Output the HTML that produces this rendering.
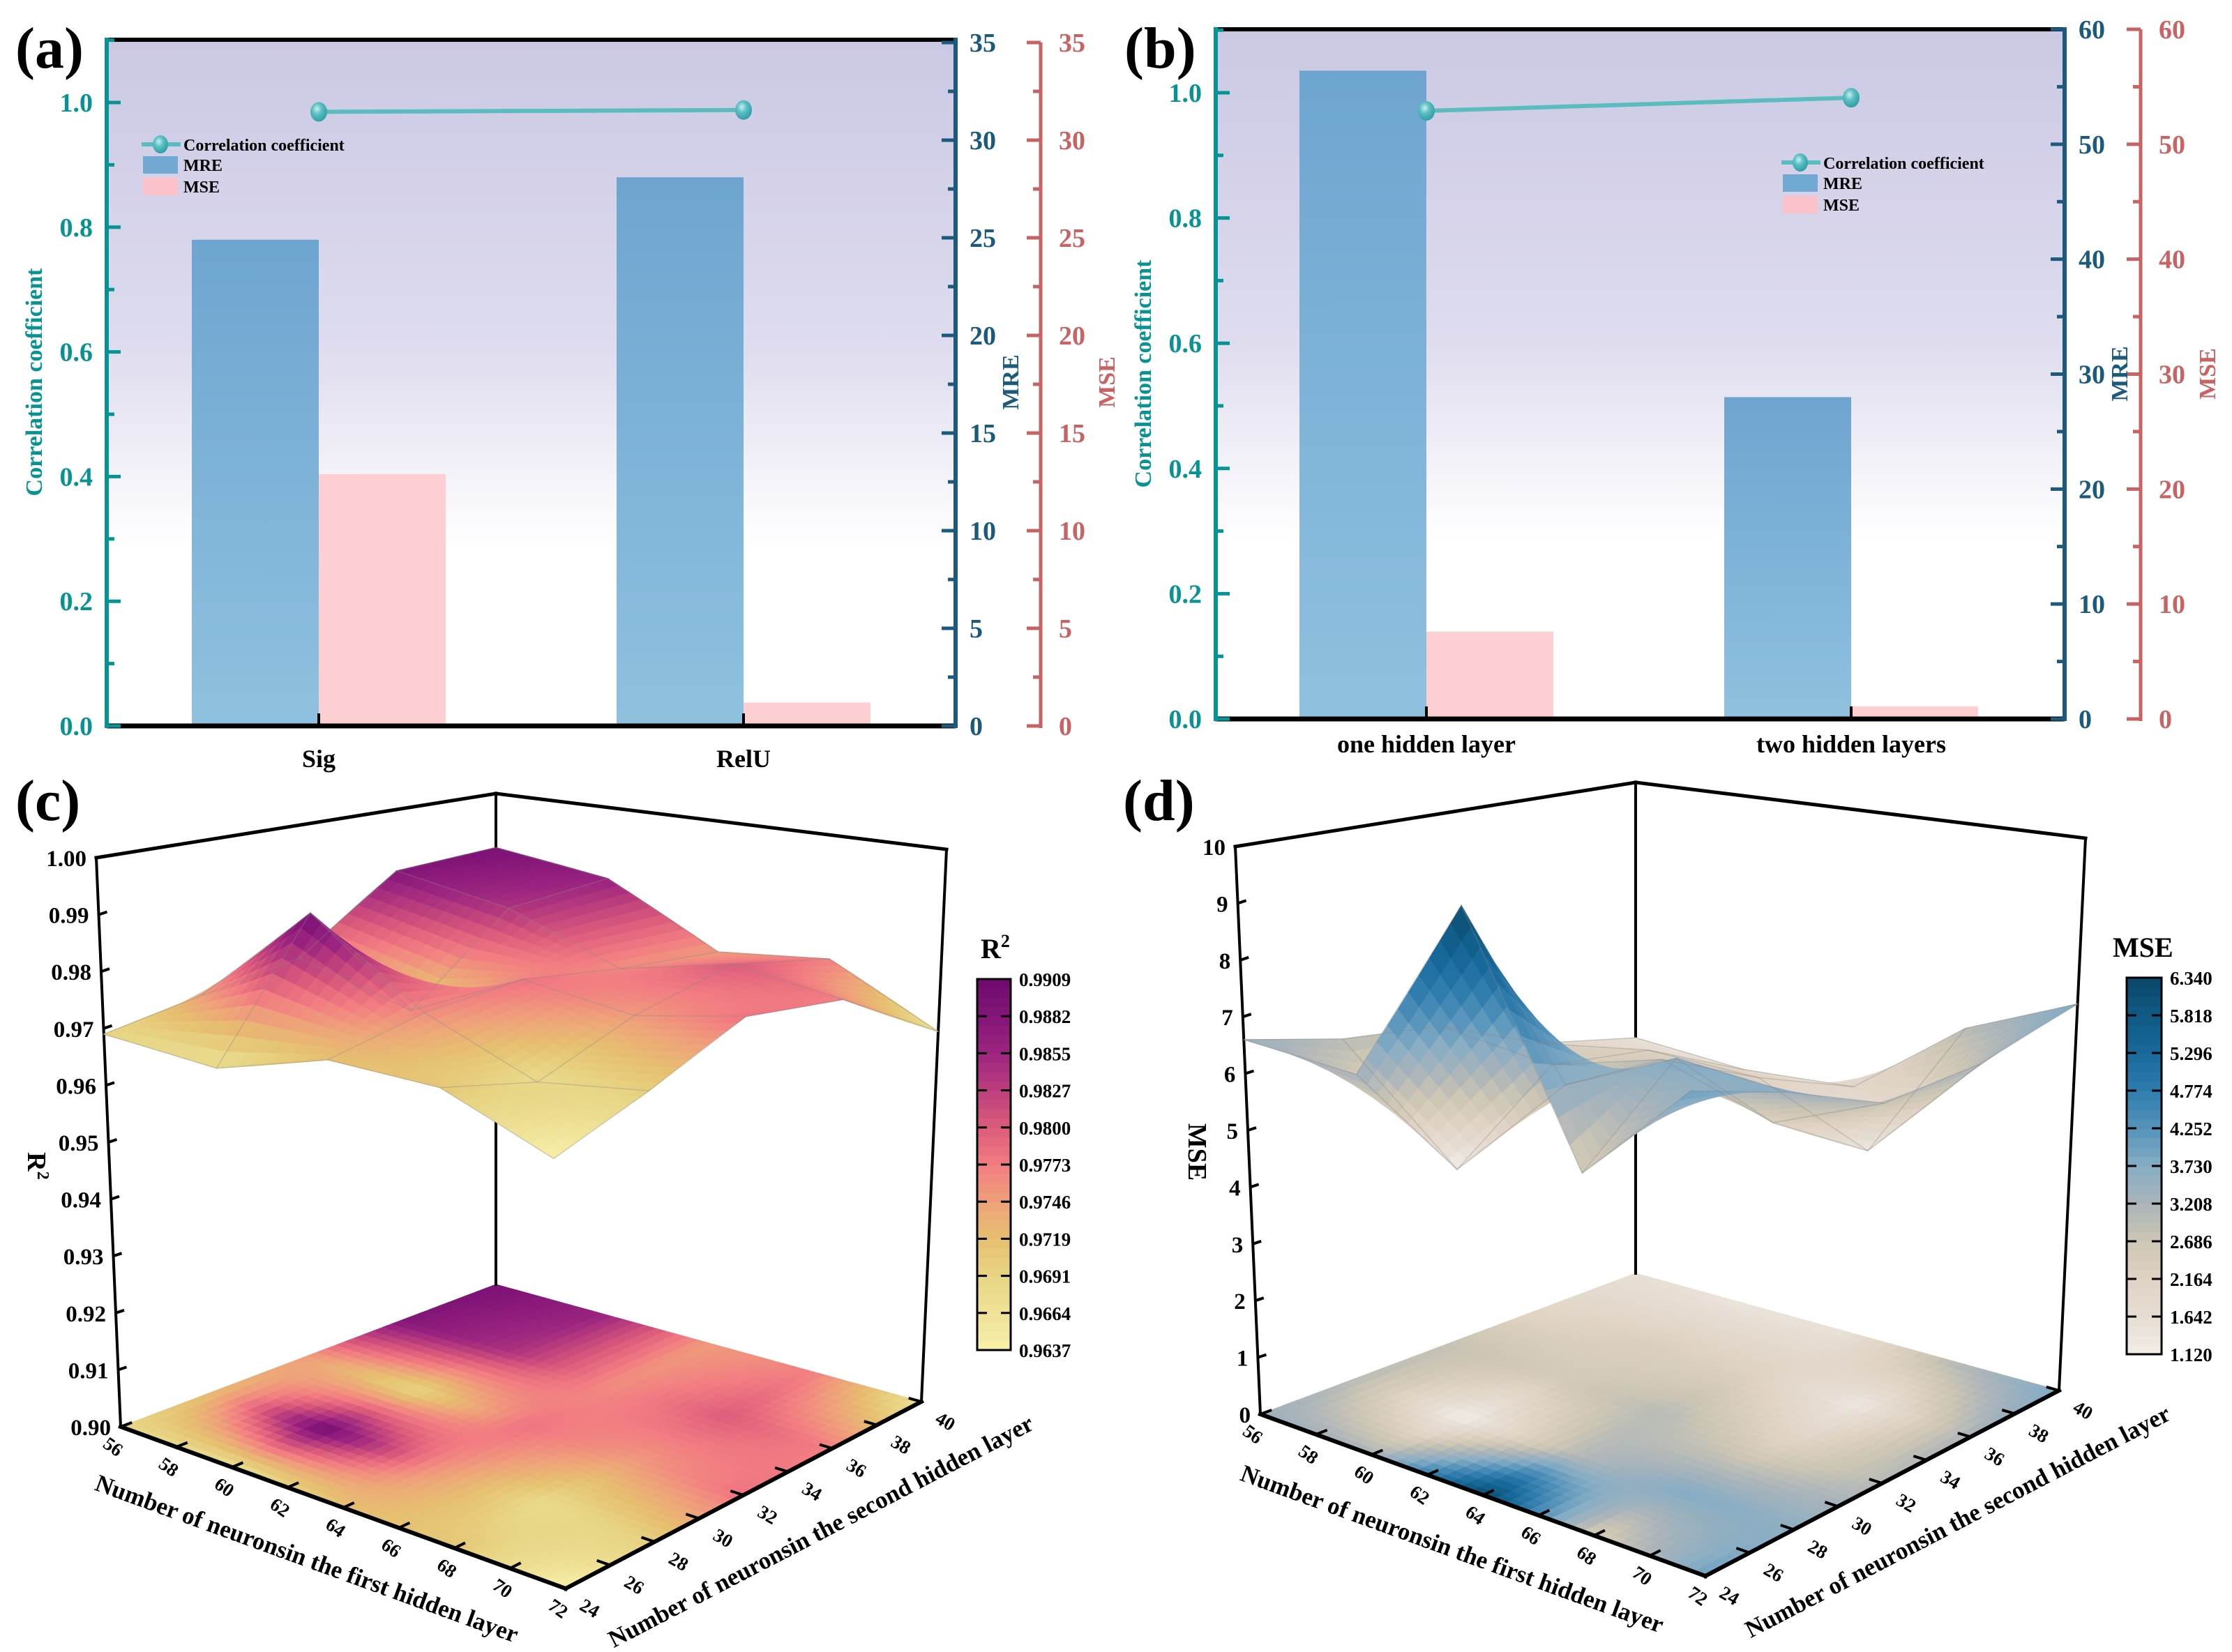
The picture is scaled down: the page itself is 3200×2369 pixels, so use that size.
<!DOCTYPE html>
<html><head><meta charset="utf-8">
<style>
html,body{margin:0;padding:0;background:#fff;}
svg text{font-family:"Liberation Serif","DejaVu Serif",serif;font-weight:bold;}
</style></head>
<body>
<svg id="fig" xmlns="http://www.w3.org/2000/svg" width="3200" height="2364" viewBox="0 0 3200 2364">
<defs>
<linearGradient id="bgA" x1="0" y1="0" x2="0" y2="1">
<stop offset="0" stop-color="#cbc8e4"/><stop offset="0.45" stop-color="#dedcee"/><stop offset="0.74" stop-color="#ffffff"/><stop offset="1" stop-color="#ffffff"/>
</linearGradient>
<linearGradient id="mreG" x1="0" y1="0" x2="0" y2="1">
<stop offset="0" stop-color="#6ea5d0"/><stop offset="1" stop-color="#8fc1df"/>
</linearGradient>
<radialGradient id="ballG" cx="0.4" cy="0.35" r="0.7">
<stop offset="0" stop-color="#c8f0f0"/><stop offset="0.4" stop-color="#5cc0c4"/><stop offset="1" stop-color="#2a9aa0"/>
</radialGradient>
</defs>
<g id="layer"></g>
</svg>
<script>
// ---------- Data: panel (a)
const catsA = ["Sig", "RelU"];
const corrA = [0.985, 0.988];
const mreA = [24.9, 28.1];
const mseA = [12.9, 1.2];
// ---------- Data: panel (b)
const catsB = ["one hidden layer", "two hidden layers"];
const corrB = [0.971, 0.992];
const mreB = [56.4, 28.0];
const mseB = [7.6, 1.1];
const leftTicks = ["0.0","0.2","0.4","0.6","0.8","1.0"];
const rightTicksA = [0,5,10,15,20,25,30,35];
const rightTicksB = [0,10,20,30,40,50,60];
// ---------- Data: panel (c) R2 surface (rows: first layer, cols: second layer)
const firstLayer = [56, 60, 64, 68, 72];
const secondLayer = [24, 28, 32, 36, 40];
const r2Grid = [
 [0.969, 0.972, 0.975, 0.988, 0.989],
 [0.967, 0.990, 0.969, 0.984, 0.986],
 [0.972, 0.976, 0.978, 0.976, 0.975],
 [0.971, 0.968, 0.975, 0.980, 0.977],
 [0.9637, 0.970, 0.978, 0.977, 0.967]
];
const r2Ticks = ["0.90","0.91","0.92","0.93","0.94","0.95","0.96","0.97","0.98","0.99","1.00"];
const r2Bar = ["0.9637","0.9664","0.9691","0.9719","0.9746","0.9773","0.9800","0.9827","0.9855","0.9882","0.9909"];
// ---------- Data: panel (d) MSE surface
const mseGrid = [
 [3.4, 3.0, 2.8, 2.0, 1.6],
 [3.2, 1.12, 2.5, 2.3, 1.4],
 [6.3, 3.0, 3.0, 2.2, 1.5],
 [2.4, 3.8, 2.3, 1.3, 3.0],
 [4.0, 3.6, 3.0, 3.2, 3.8]
];
const mseZOffset = 3.2;
const mseTicks = ["0","1","2","3","4","5","6","7","8","9","10"];
const mseBar = ["1.120","1.642","2.164","2.686","3.208","3.730","4.252","4.774","5.296","5.818","6.340"];
const xTickVals = [56,58,60,62,64,66,68,70,72];
const yTickVals = [24,26,28,30,32,34,36,38,40];

const NS = "http://www.w3.org/2000/svg";
const root = document.getElementById("layer");
function mk(tag, attrs, parent) {
  const e = document.createElementNS(NS, tag);
  for (const k in attrs) e.setAttribute(k, attrs[k]);
  (parent || root).appendChild(e);
  return e;
}
function txt(str, attrs, parent) { const e = mk("text", attrs, parent); e.textContent = str; return e; }

// ================= BAR PANELS =================
function barPanel(p, cats, corr, mre, mse, rTicks, rMax, tag) {
  const g = mk("g", {});
  
  
  const yL = v => p.bot - v * p.perUnit;
  const yR = v => p.bot - v * (p.bot - p.rTop) / rMax;
  const bg = mk("rect", {x:p.x0, y:p.top, width:p.x1-p.x0, height:p.bot-p.top, fill:"url(#bgA)"}, g);
  
  
  cats.forEach((c, i) => {
    const cx = p.cx[i];
    const b1 = mk("rect", {x:cx-p.bw, y:yR(mre[i]), width:p.bw, height:p.bot-yR(mre[i]), fill:"url(#mreG)"}, g);
    
    
    const b2 = mk("rect", {x:cx, y:yR(mse[i]), width:p.bw, height:p.bot-yR(mse[i]), fill:"#fdcfd2"}, g);
    
    
    mk("line", {x1:cx, x2:cx, y1:p.bot, y2:p.bot-18, stroke:"#000", "stroke-width":4}, g);
    const cl = txt(c, {x:cx, y:p.catY, "text-anchor":"middle", "font-size":36, fill:"#000"}, g);
    
    
  });
  mk("line", {x1:p.x0, x2:p.x1, y1:p.top, y2:p.top, stroke:"#000", "stroke-width":6}, g);
  const xa = mk("line", {x1:p.x0, x2:p.x1, y1:p.bot, y2:p.bot, stroke:"#000", "stroke-width":7}, g);
  
  
  const la = mk("line", {x1:p.x0, x2:p.x0, y1:p.top-3, y2:p.bot+3, stroke:"#079393", "stroke-width":6}, g);
  
  
  const ra = mk("line", {x1:p.x1, x2:p.x1, y1:p.top-3, y2:p.bot+3, stroke:"#1b5a7c", "stroke-width":6}, g);
  
  
  const ma = mk("line", {x1:p.msex, x2:p.msex, y1:p.rTop, y2:p.bot+3, stroke:"#c96262", "stroke-width":5}, g);
  
  
  for (let k = 0; k <= 11; k++) {
    const v = k * 0.1; const y = yL(v);
    if (y < p.top) break;
    const major = k % 2 === 0;
    mk("line", {x1:p.x0, x2:p.x0 + (major ? 20 : 11), y1:y, y2:y, stroke:"#079393", "stroke-width":5}, g);
    if (major) {
      const t = txt(leftTicks[k/2], {x:p.x0-20, y:y+13, "text-anchor":"end", "font-size":38, fill:"#079393"}, g);
      
      
    }
  }
  const step = rTicks[1] - rTicks[0];
  rTicks.forEach((v, k) => {
    const y = yR(v);
    mk("line", {x1:p.x1, x2:p.x1-20, y1:y, y2:y, stroke:"#1b5a7c", "stroke-width":5}, g);
    mk("line", {x1:p.msex, x2:p.msex-20, y1:y, y2:y, stroke:"#c96262", "stroke-width":5}, g);
    if (k < rTicks.length - 1) {
      const ym = yR(v + step/2);
      mk("line", {x1:p.x1, x2:p.x1-11, y1:ym, y2:ym, stroke:"#1b5a7c", "stroke-width":5}, g);
      mk("line", {x1:p.msex, x2:p.msex-11, y1:ym, y2:ym, stroke:"#c96262", "stroke-width":5}, g);
    }
    const t1 = txt(String(v), {x:p.x1+20, y:y+13, "font-size":38, fill:"#1b5a7c"}, g);
    
    
    const t2 = txt(String(v), {x:p.msex+26, y:y+13, "font-size":38, fill:"#c96262"}, g);
    
    
  });
  const t1 = txt("Correlation coefficient", {x:0, y:0, "text-anchor":"middle", "font-size":34, fill:"#079393", transform:`translate(${p.ctX},${p.ctY}) rotate(-90)`}, g);
  
  
  const t2 = txt("MRE", {x:0, y:0, "text-anchor":"middle", "font-size":34, fill:"#1b5a7c", transform:`translate(${p.mreTX},${p.ctY}) rotate(-90)`}, g);
  
  
  const t3 = txt("MSE", {x:0, y:0, "text-anchor":"middle", "font-size":34, fill:"#c96262", transform:`translate(${p.mseTX},${p.ctY}) rotate(-90)`}, g);
  
  
  const pts = corr.map((v, i) => `${p.cx[i]},${yL(v)}`).join(" ");
  const pl = mk("polyline", {points:pts, fill:"none", stroke:"#5bbcc0", "stroke-width":6}, g);
  
  
  corr.forEach((v, i) => {
    const c = mk("ellipse", {cx:p.cx[i], cy:yL(v), rx:12, ry:14, fill:"url(#ballG)"}, g);
    
    
  });
  const lg = mk("g", {}, g);
  
  
  mk("line", {x1:p.lgX, x2:p.lgX+56, y1:p.lgY, y2:p.lgY, stroke:"#5bbcc0", "stroke-width":6}, lg);
  mk("ellipse", {cx:p.lgX+27, cy:p.lgY, rx:11, ry:13, fill:"url(#ballG)"}, lg);
  txt("Correlation coefficient", {x:p.lgX+60, y:p.lgY+9, "font-size":24, fill:"#000"}, lg);
  mk("rect", {x:p.lgX+2, y:p.lgY+17, width:50, height:25, fill:"#72a9d3"}, lg);
  txt("MRE", {x:p.lgX+60, y:p.lgY+38, "font-size":24, fill:"#000"}, lg);
  mk("rect", {x:p.lgX+2, y:p.lgY+48, width:50, height:25, fill:"#fbc3c9"}, lg);
  txt("MSE", {x:p.lgX+60, y:p.lgY+69, "font-size":24, fill:"#000"}, lg);
}
barPanel({x0:153, x1:1370, msex:1492, top:57, bot:1041, perUnit:894, rTop:61, cx:[457,1066], bw:182,
  catY:1100, ctX:60, ctY:548, mreTX:1460, mseTX:1598, lgX:203, lgY:207}, catsA, corrA, mreA, mseA, rightTicksA, 35, "a");
barPanel({x0:1743, x1:2960, msex:3069, top:42, bot:1031, perUnit:898, rTop:42, cx:[2045,2654], bw:182,
  catY:1079, ctX:1650, ctY:536, mreTX:3050, mseTX:3176, lgX:2554, lgY:233}, catsB, corrB, mreB, mseB, rightTicksB, 60, "b");

// ================= 3D PANELS =================
function hex(c){return [parseInt(c.slice(1,3),16),parseInt(c.slice(3,5),16),parseInt(c.slice(5,7),16)];}
function cmap(stops, lo, hi, v) {
  let t = (v - lo) / (hi - lo); t = Math.max(0, Math.min(1, t)) * (stops.length - 1);
  const i = Math.min(stops.length - 2, Math.floor(t)); const f = t - i;
  const a = hex(stops[i]), b = hex(stops[i+1]);
  return `rgb(${Math.round(a[0]+(b[0]-a[0])*f)},${Math.round(a[1]+(b[1]-a[1])*f)},${Math.round(a[2]+(b[2]-a[2])*f)})`;
}
const stopsC = ["#f8f0aa","#efe197","#e7d585","#e6c070","#efa17a","#f27c82","#dc5c7c","#bc3f7d","#9c2580","#831578","#6f0a6e"];
const stopsD = ["#f2ede6","#e6ddd3","#e0d3c4","#cdc6b4","#aab4ba","#87adc4","#5593bb","#2f7cad","#19699b","#0f5a84","#0c4669"];

function draw3d(cfg, grid, colorVal, heightVal, tag) {
  const g = mk("g", {});
  
  
  const C = cfg.c;
  const bil = (P, u, v, k) => P.F[k]*(1-u)*(1-v) + P.L[k]*u*(1-v) + P.R[k]*(1-u)*v + P.B[k]*u*v;
  const proj = (u, v, t) => [bil(C.fl,u,v,0)*(1-t)+bil(C.tp,u,v,0)*t, bil(C.fl,u,v,1)*(1-t)+bil(C.tp,u,v,1)*t];
  const uOf = x => (72 - x) / 16, vOf = y => (y - 24) / 16;
  const tOf = z => (z - cfg.zlo) / (cfg.zhi - cfg.zlo);
  const pL0=proj(1,0,0), pL1=proj(1,0,1), pB0=proj(1,1,0), pB1=proj(1,1,1), pR0=proj(0,1,0), pR1=proj(0,1,1), pF0=proj(0,0,0);
  const S = 10;
  function cellQuads(t0fn) {
    const quads = [];
    for (let i = 0; i < 4; i++) for (let j = 0; j < 4; j++) {
      for (let a = 0; a < S; a++) for (let b = 0; b < S; b++) {
        const corners = [[a,b],[a+1,b],[a+1,b+1],[a,b+1]].map(([aa,bb]) => {
          const fa = aa/S, fb = bb/S;
          const val = grid[i][j]*(1-fa)*(1-fb) + grid[i+1][j]*fa*(1-fb) + grid[i][j+1]*(1-fa)*fb + grid[i+1][j+1]*fa*fb;
          const x = firstLayer[i] + (firstLayer[i+1]-firstLayer[i])*fa;
          const y = secondLayer[j] + (secondLayer[j+1]-secondLayer[j])*fb;
          return {u:uOf(x), v:vOf(y), val};
        });
        const cv = corners.reduce((s,c)=>s+c.val,0)/4;
        const du = corners.reduce((s,c)=>s+c.u+c.v,0)/4;
        const pts = corners.map(c => proj(c.u, c.v, t0fn(c.val)).map(n=>n.toFixed(1)).join(",")).join(" ");
        quads.push({d:du, pts, col:cmap(cfg.stops, cfg.clo, cfg.chi, colorVal(cv))});
      }
    }
    return quads;
  }
  const fg = mk("g", {}, g);
  
  
  cellQuads(() => 0).forEach(q => mk("polygon", {points:q.pts, fill:q.col, stroke:q.col, "stroke-width":1.2}, fg));
  const ln = (a, b, w) => mk("line", {x1:a[0], y1:a[1], x2:b[0], y2:b[1], stroke:"#000", "stroke-width":w, "stroke-linecap":"square"}, g);
  ln(pL0, pL1, 4); ln(pB0, pB1, 4); ln(pR0, pR1, 4); ln(pL1, pB1, 5); ln(pB1, pR1, 5);
  ln(pL0, pF0, 6); ln(pF0, pR0, 6);
  cfg.zTicks.forEach((lab, k) => {
    const t = k / (cfg.zTicks.length - 1);
    const p = proj(1, 0, t);
    if (k > 0 && k < cfg.zTicks.length - 1) mk("line", {x1:p[0], y1:p[1], x2:p[0]+12, y2:p[1]-4, stroke:"#000", "stroke-width":4}, g);
    const tl = txt(lab, {x:p[0]-14, y:p[1]+12, "text-anchor":"end", "font-size":33, fill:"#000"}, g);
    
    
  });
  xTickVals.forEach(x => {
    const p = proj(uOf(x), 0, 0), q = proj(uOf(x), 0.03, 0);
    mk("line", {x1:p[0], y1:p[1], x2:q[0], y2:q[1], stroke:"#000", "stroke-width":4}, g);
    const tl = txt(String(x), {x:0, y:0, "text-anchor":"middle", "font-size":27, fill:"#000", transform:`translate(${p[0]-16},${p[1]+36}) rotate(35)`}, g);
    
    
  });
  yTickVals.forEach(y => {
    const p = proj(0, vOf(y), 0), q = proj(0.03, vOf(y), 0);
    mk("line", {x1:p[0], y1:p[1], x2:q[0], y2:q[1], stroke:"#000", "stroke-width":4}, g);
    const tl = txt(String(y), {x:0, y:0, "text-anchor":"middle", "font-size":27, fill:"#000", transform:`translate(${p[0]+30},${p[1]+36}) rotate(30)`}, g);
    
    
  });
  const a1 = txt("Number of neuronsin the first hidden layer", {x:0, y:0, "text-anchor":"middle", "font-size":35, fill:"#000", transform:`translate(${cfg.t1[0]},${cfg.t1[1]}) rotate(20)`}, g);
  
  
  const a2 = txt("Number of neuronsin the second hidden layer", {x:0, y:0, "text-anchor":"middle", "font-size":35, fill:"#000", transform:`translate(${cfg.t2[0]},${cfg.t2[1]}) rotate(-27.5)`}, g);
  
  
  const a3 = mk("text", {x:0, y:0, "text-anchor":"middle", "font-size":38, fill:"#000", transform:`translate(${cfg.zt[0]},${cfg.zt[1]}) rotate(90)`}, g);
  a3.innerHTML = cfg.zTitle;
  
  
  const sg = mk("g", {}, g);
  
  
  const quads = cellQuads(v => tOf(heightVal(v)));
  quads.sort((a, b) => b.d - a.d);
  quads.forEach(q => mk("polygon", {points:q.pts, fill:q.col, stroke:q.col, "stroke-width":1.2}, sg));
  for (let i = 0; i < 5; i++) {
    const pts = secondLayer.map((y, j) => proj(uOf(firstLayer[i]), vOf(y), tOf(heightVal(grid[i][j]))).join(",")).join(" ");
    mk("polyline", {points:pts, fill:"none", stroke:"#888", "stroke-opacity":0.35, "stroke-width":1.5}, sg);
  }
  for (let j = 0; j < 5; j++) {
    const pts = firstLayer.map((x, i) => proj(uOf(x), vOf(secondLayer[j]), tOf(heightVal(grid[i][j]))).join(",")).join(" ");
    mk("polyline", {points:pts, fill:"none", stroke:"#888", "stroke-opacity":0.35, "stroke-width":1.5}, sg);
  }
  const cb = mk("g", {}, g);
  
  
  const [bx, by, bw, bh] = cfg.cbar;
  const N = 40;
  for (let k = 0; k < N; k++) {
    const v = cfg.clo + (cfg.chi - cfg.clo) * (k + 0.5) / N;
    mk("rect", {x:bx, y:by + bh - (k+1)*bh/N, width:bw, height:bh/N + 0.6, fill:cmap(cfg.stops, cfg.clo, cfg.chi, v)}, cb);
  }
  mk("rect", {x:bx, y:by, width:bw, height:bh, fill:"none", stroke:"#000", "stroke-width":3}, cb);
  cfg.cbLabels.forEach((lab, k) => {
    const y = by + bh - k * bh / (cfg.cbLabels.length - 1);
    if (k > 0 && k < cfg.cbLabels.length - 1) {
      mk("line", {x1:bx, x2:bx+14, y1:y, y2:y, stroke:"#000", "stroke-width":3}, cb);
      mk("line", {x1:bx+bw-14, x2:bx+bw, y1:y, y2:y, stroke:"#000", "stroke-width":3}, cb);
    }
    txt(lab, {x:bx+bw+12, y:y+10, "font-size":27, fill:"#000"}, cb);
  });
  const ct = mk("text", {x:cfg.cbt[0], y:cfg.cbt[1], "font-size":40, fill:"#000"}, cb);
  ct.innerHTML = cfg.cbTitle;
}

draw3d({
  c:{fl:{F:[811,2278], L:[173,2046], R:[1321,2010], B:[711,1842]},
     tp:{F:[784,1310], L:[138,1230], R:[1357,1218], B:[711,1138]}},
  zlo:0.90, zhi:1.00, clo:0.9637, chi:0.9909, stops:stopsC,
  zTicks:r2Ticks, cbLabels:r2Bar, cbar:[1401,1404,48,532], cbt:[1406,1374],
  cbTitle:'R<tspan dy="-16" font-size="26">2</tspan>',
  zTitle:'R<tspan dy="-14" font-size="24">2</tspan>', zt:[40,1672],
  t1:[436,2246], t2:[1182,2206]
}, r2Grid, v => v, v => v, "c");

draw3d({
  c:{fl:{F:[2445,2260], L:[1807,2028], R:[2952,1994], B:[2345,1826]},
     tp:{F:[2416,1294], L:[1771,1214], R:[2990,1202], B:[2345,1122]}},
  zlo:0, zhi:10, clo:1.12, chi:6.34, stops:stopsD,
  zTicks:mseTicks, cbLabels:mseBar, cbar:[3049,1402,50,540], cbt:[3029,1372],
  cbTitle:'MSE', zTitle:'MSE', zt:[1704,1652],
  t1:[2078,2232], t2:[2812,2192]
}, mseGrid, v => v, v => v + mseZOffset, "d");

[["(a)",22,97],["(b)",1612,97],["(c)",22,1176],["(d)",1610,1176]].forEach(([s,x,y]) => {
  const t = txt(s, {x, y, "font-size":84, fill:"#000"});
  
  
});
</script>
</body></html>
